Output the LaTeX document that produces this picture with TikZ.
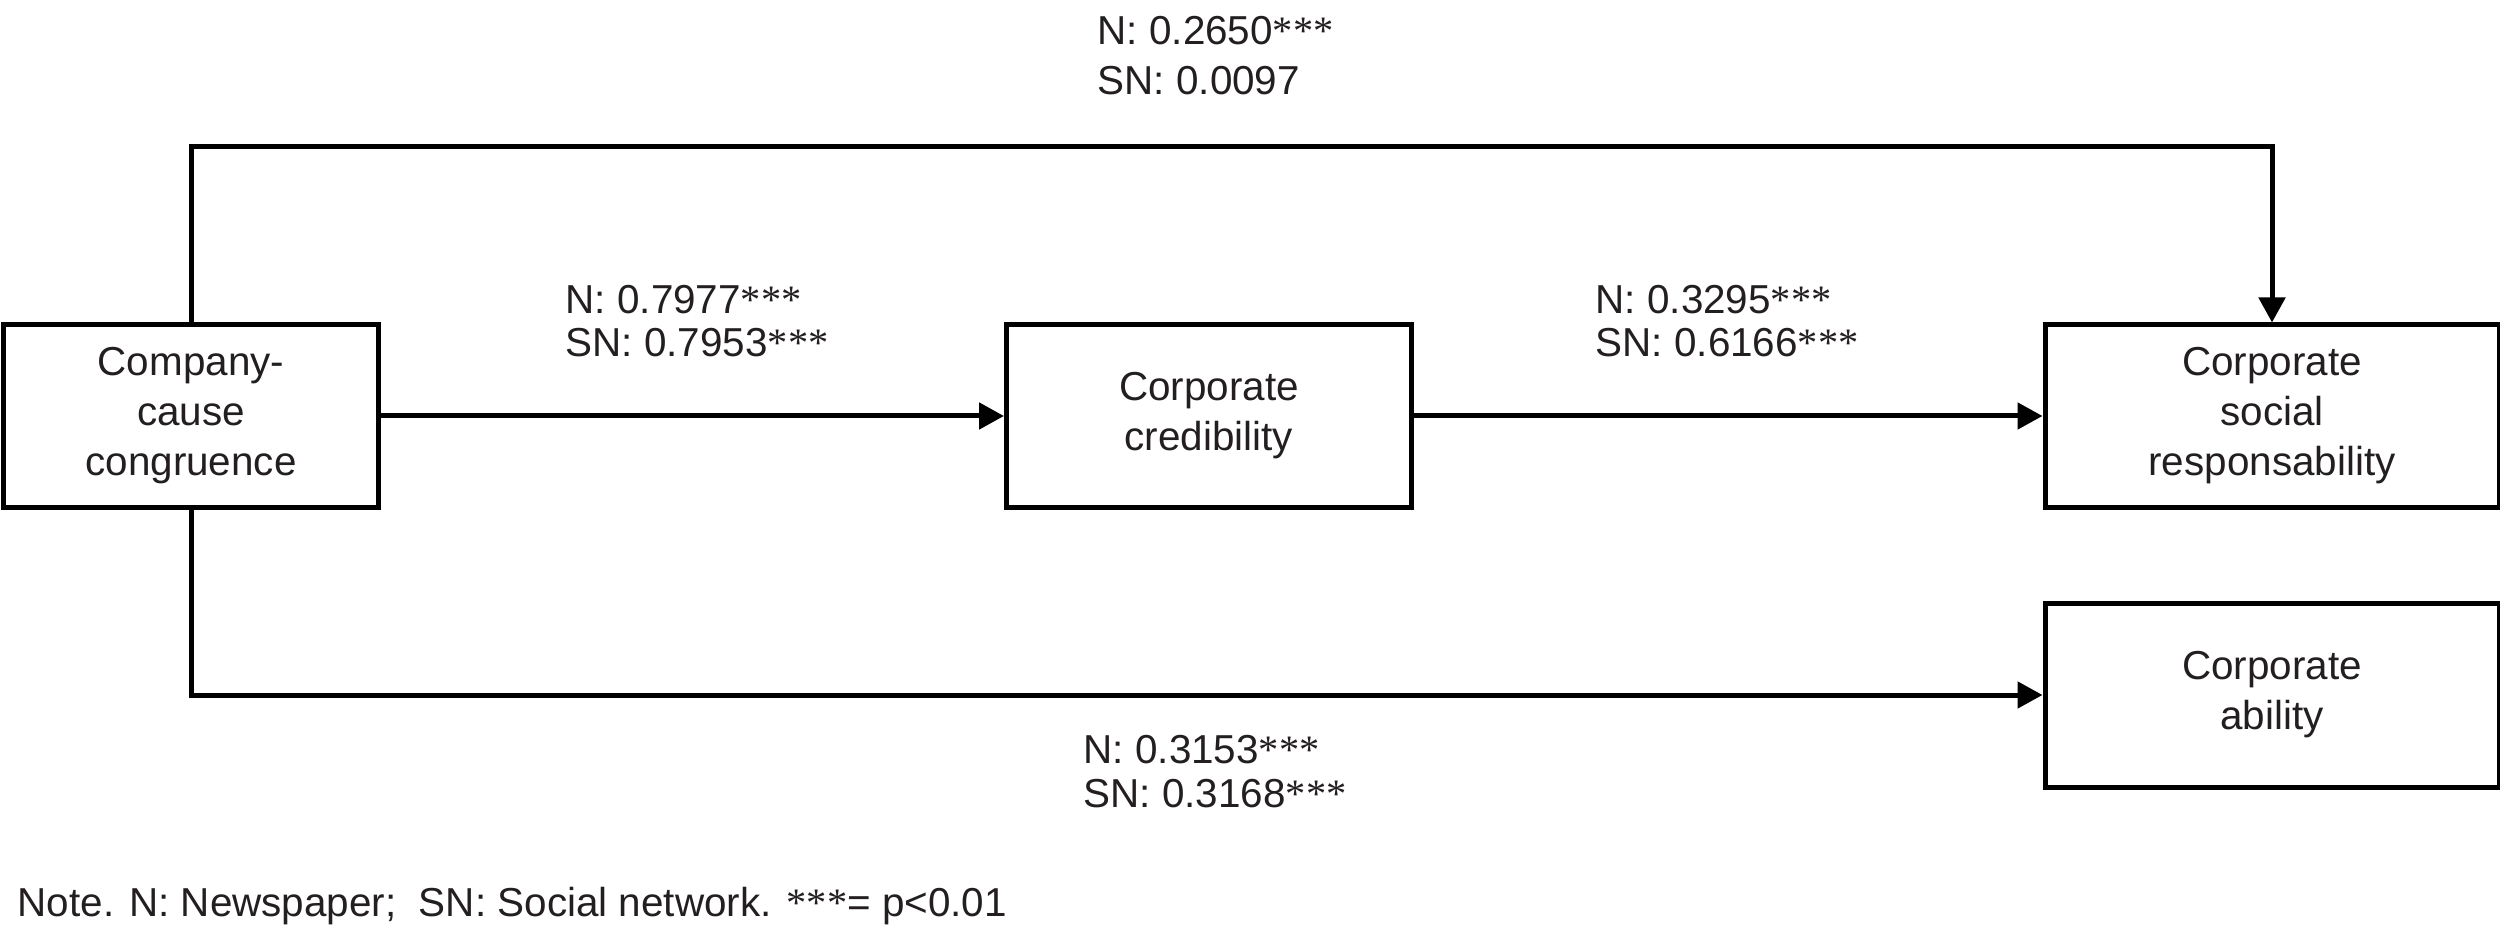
\documentclass[tikz,border=0pt]{standalone}
\usepackage{fontspec}
\setmainfont{Liberation Sans}
\newfontfamily\starfont{Liberation Serif}
\usepackage{xcolor}
\usepackage{tikz}
\usetikzlibrary{arrows.meta, positioning}
\definecolor{mydark}{RGB}{35,31,32}
\newcommand{\stars}{{\starfont ***}}
\tikzset{
  block/.style={rectangle, draw=black, fill=white, align=center,
    minimum height=1.82cm, inner sep=0pt, line width=0.05cm,
    text=mydark, font=\fontsize{11.5}{14.23}\selectfont},
  estlabel/.style={align=left, inner sep=0pt, anchor=base west,
    text=mydark, font=\fontsize{11.5}{12.24}\selectfont},
  arrow/.style={-{Triangle[length=0.25cm,width=0.26cm]}, line width=0.05cm, color=black}
}

\begin{document}
\begin{tikzpicture}
  \useasboundingbox (0,0) rectangle (25,-9.33);
  % ── boxes ────────────────────────────────────────────────────────────────
  \node[block, minimum width=3.75cm] (cong) at (1.91,-4.16) {Company-\\cause\\congruence};
  \node[block, minimum width=4.05cm] (cred) at (12.09,-4.16) {Corporate\\credibility};
  \node[block, minimum width=4.54cm] (csr)  at (22.72,-4.16) {Corporate\\social\\responsability};
  \node[block, minimum width=4.54cm, minimum height=1.84cm] (abil) at (22.72,-6.95) {Corporate\\ability};
  % ── paths ────────────────────────────────────────────────────────────────
  \coordinate (topturn) at (22.72,-1.47);
  \draw[arrow] (cong.north) |- (topturn) -- (csr.north);
  \draw[arrow] (cong.east) -- (cred.west);
  \draw[arrow] (cred.east) -- (csr.west);
  \draw[arrow] (cong.south) |- (abil.west);
  % ── estimates (anchored at last baseline) ────────────────────────────────
  \node[estlabel, font=\fontsize{11.5}{14.23}\selectfont] (lbltop) at (10.97,-0.95) {N: 0.2650\stars\\SN: 0.0097};
  \node[estlabel] (lblcred) at (5.65,-3.57) {N: 0.7977\stars\\SN: 0.7953\stars};
  \node[estlabel] (lblcsr) at (15.95,-3.57) {N: 0.3295\stars\\SN: 0.6166\stars};
  \node[estlabel] (lblabil) at (10.83,-8.07) {N: 0.3153\stars\\SN: 0.3168\stars};
  % note
  \node[estlabel] (note) at (0.17,-9.16) {Note. N: Newspaper;\ \ SN: Social network. \stars= p<0.01};
\end{tikzpicture}
\end{document}
